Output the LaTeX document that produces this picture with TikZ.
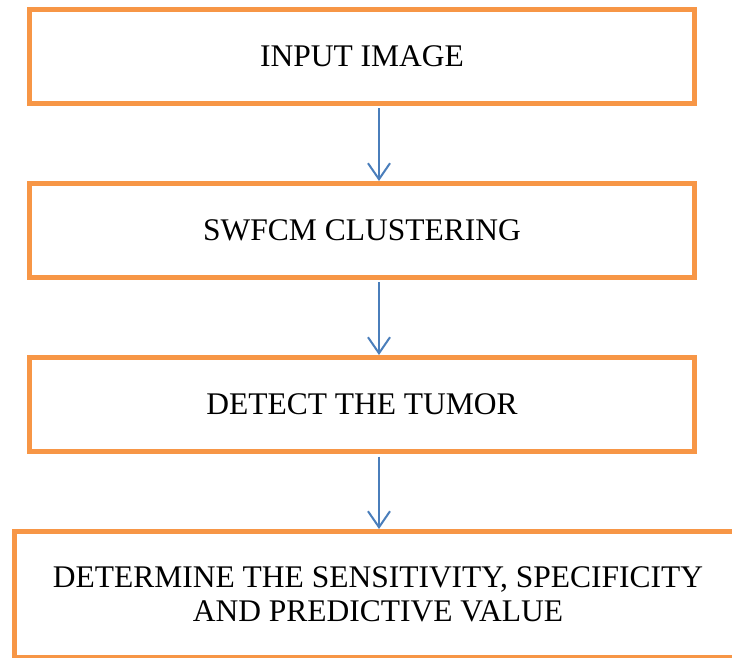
\documentclass[tikz,border=0pt]{standalone}
\usepackage{fontspec}
\setmainfont{Liberation Serif}
\usetikzlibrary{arrows.meta}
\definecolor{boxorange}{HTML}{F79646}
\definecolor{flowblue}{HTML}{4A7EBB}
\tikzset{
  stepbox/.style={draw=boxorange, line width=5pt, inner sep=0pt,
    minimum width=665pt, minimum height=94pt,
    font=\fontsize{31.5}{34}\selectfont, align=center},
  flow/.style={draw=flowblue, line width=2pt,
    -{Straight Barb[length=16pt,width=22pt,line width=2pt]}}
}
\begin{document}
\begin{tikzpicture}[x=1pt,y=-1pt]
  \clip (0,0) rectangle (732,658);
  \fill[white] (0,0) rectangle (732,658);
  \node[stepbox] (input) at (362,56.5) {INPUT IMAGE};
  \node[stepbox] (swfcm) at (362,230.5) {SWFCM CLUSTERING};
  \node[stepbox] (detect) at (362,404.5) {DETECT THE TUMOR};
  \node[stepbox, minimum width=727pt, minimum height=126pt] (measure) at (378,594.5)
    {DETERMINE THE SENSITIVITY, SPECIFICITY\\AND PREDICTIVE VALUE};
  \draw[flow] (input.south -| 379,0) ++(0,2.5) -- (swfcm.north -| 379,0);
  \draw[flow] (swfcm.south -| 379,0) ++(0,2.5) -- (detect.north -| 379,0);
  \draw[flow] (detect.south -| 379,0) ++(0,2.5) -- (measure.north -| 379,0);
\end{tikzpicture}
\end{document}
